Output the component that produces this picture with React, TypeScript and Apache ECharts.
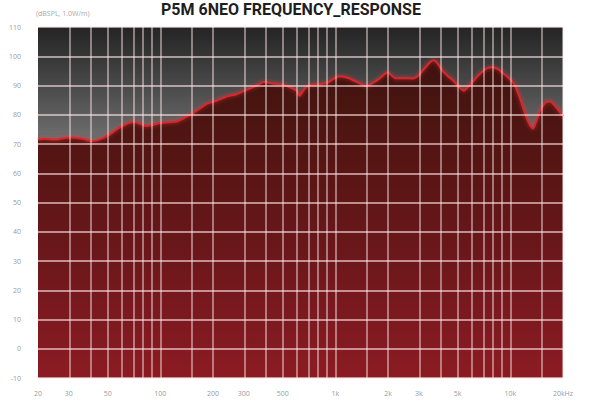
import React, { useEffect, useRef } from "react";
import * as echarts from "echarts";

const TITLE = "P5M 6NEO FREQUENCY_RESPONSE";
const UNIT = "(dBSPL, 1.0W/m)";

const freqs = [
  20, 22, 25, 28, 31, 36, 41, 47, 53, 58, 64, 70, 76, 82, 90, 100, 112, 125, 138, 153,
  170, 185, 205, 225, 245, 272, 311, 355, 390, 438, 490, 540, 600, 625, 660, 716, 800, 890,
  960, 1050, 1200, 1350, 1490, 1650, 1800, 1990, 2200, 2500, 2770, 3000, 3200, 3450, 3650,
  3850, 4100, 4400, 4750, 5100, 5400, 5800, 6200, 6700, 7300, 7900, 8500, 9100, 9700, 10500,
  11300, 12200, 13000, 13500, 14200, 15000, 15900, 16900, 17900, 18900, 20000,
];
const spl = [
  71.5, 71.8, 71.5, 72, 72.2, 71.8, 71, 72, 73.8, 75.5, 76.8, 77.5, 77, 76.2, 76.5, 77.2, 77.4,
  77.8, 79, 80.5, 82.3, 83.8, 84.6, 85.6, 86.4, 87, 88.5, 90, 91.2, 90.7, 90.5, 89.6, 88.3,
  86.5, 88.5, 90.2, 90.5, 90.8, 92, 93.2, 92.5, 91, 89.8, 91, 92.5, 94.5, 92.5, 92.5, 92.4,
  93.5, 95.5, 97.8, 98.6, 97.5, 95, 93.2, 91.5, 89.5, 88.2, 89.8, 91.8, 94, 95.8, 96.2, 95.6,
  94.2, 92.8, 90.5, 86, 80, 76.2, 75.3, 78.5, 82, 84.2, 84.5, 83.2, 81.5, 79.5,
];

const xTickFreqs = [20, 30, 50, 100, 200, 300, 500, 1000, 2000, 3000, 5000, 10000, 20000];
const xTickLabels = ["20", "30", "50", "100", "200", "300", "500", "1k", "2k", "3k", "5k", "10k", "20kHz"];
const gridFreqs = [
  20, 30, 40, 50, 60, 70, 80, 90, 100, 150, 200, 300, 400, 500, 600, 700, 800, 900, 1000,
  1500, 2000, 3000, 4000, 5000, 6000, 7000, 8000, 9000, 10000, 15000, 20000,
];
const Y_MIN = -10;
const Y_MAX = 110;
const Y_STEP = 10;

export default function App() {
  const ref = useRef<HTMLDivElement>(null);
  useEffect(() => {
    if (!ref.current) return;
    const chart = echarts.init(ref.current, null, { renderer: "svg" });
    const lg = (f: number) => Math.log10(f);
    chart.setOption({
      animation: false,
      graphic: [
        {
          type: "text",
          x: 291,
          y: 1,
          style: {
            text: TITLE,
            fill: "#1e1e1e",
            font: "bold 16px Roboto",
            align: "center",
            verticalAlign: "top",
          },
        },
        {
          type: "text",
          x: 36,
          y: 13,
          style: {
            text: UNIT,
            fill: "#a8a8a8",
            font: "7px 'Open Sans'",
            align: "left",
            verticalAlign: "middle",
          },
        },
      ],
      grid: {
        left: 38,
        right: 28,
        top: 27,
        bottom: 23,
        show: true,
        borderWidth: 0,
        backgroundColor: new echarts.graphic.LinearGradient(0, 0, 0, 1, [
          { offset: 0, color: "#242424" },
          { offset: 0.1, color: "#3a3a3a" },
          { offset: 0.22, color: "#565656" },
          { offset: 0.3, color: "#6a6a6a" },
          { offset: 0.36, color: "#5f7676" },
          { offset: 0.45, color: "#5a2a26" },
          { offset: 1, color: "#6a1a1a" },
        ]),
      },
      xAxis: {
        type: "value",
        min: lg(20),
        max: lg(20000),
        splitLine: { show: false },
        axisLine: { show: false },
        axisTick: { show: false },
        axisLabel: {
          customValues: xTickFreqs.map(lg),
          color: "#9a9a9a",
          fontSize: 7,
          fontFamily: "Open Sans",
          margin: 12,
          formatter: (v: number) => {
            let best = 0;
            let bd = Infinity;
            xTickFreqs.forEach((f, i) => {
              const d = Math.abs(lg(f) - v);
              if (d < bd) {
                bd = d;
                best = i;
              }
            });
            return xTickLabels[best];
          },
        },
      },
      yAxis: {
        type: "value",
        min: Y_MIN,
        max: Y_MAX,
        interval: Y_STEP,
        z: 10,
        axisLine: { show: false },
        axisTick: { show: false },
        axisLabel: {
          color: "#9a9a9a",
          fontSize: 7,
          fontFamily: "Open Sans",
          margin: 17,
        },
        splitLine: {
          show: true,
          lineStyle: { color: "rgba(255,232,232,0.78)", width: 1.5 },
        },
      },
      series: [
        {
          type: "line",
          data: freqs.map((f, i) => [lg(f), spl[i]]),
          symbol: "none",
          smooth: 0.2,
          lineStyle: {
            color: "#d8282e",
            width: 2,
            shadowColor: "rgba(255,50,50,0.7)",
            shadowBlur: 4,
          },
          areaStyle: {
            origin: "start",
            opacity: 1,
            color: new echarts.graphic.LinearGradient(0, 0, 0, 1, [
              { offset: 0, color: "#3e120f" },
              { offset: 0.15, color: "#4a1511" },
              { offset: 0.4, color: "#5c1515" },
              { offset: 0.7, color: "#72181d" },
              { offset: 1, color: "#8c1b23" },
            ]),
          },
          markLine: {
            silent: true,
            symbol: ["none", "none"],
            label: { show: false },
            lineStyle: { color: "rgba(255,232,232,0.62)", width: 1.5, type: "solid" },
            data: gridFreqs.map((f) => ({ xAxis: lg(f) })),
          },
        },
      ],
    });
    return () => chart.dispose();
  }, []);
  return (
    <div
      ref={ref}
      style={{ position: "fixed", left: 0, top: 0, width: 591, height: 401, background: "#fff" }}
    />
  );
}
